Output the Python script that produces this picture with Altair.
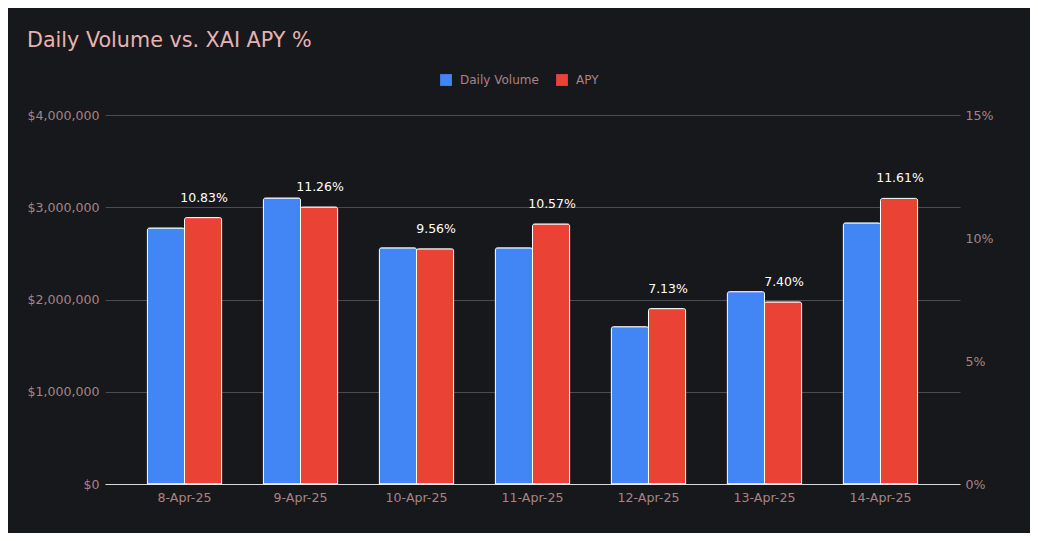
import altair as alt
import pandas as pd

dates = ["8-Apr-25", "9-Apr-25", "10-Apr-25", "11-Apr-25", "12-Apr-25", "13-Apr-25", "14-Apr-25"]
volume = [2775000, 3100000, 2560000, 2560000, 1705000, 2085000, 2830000]
apy = [10.83, 11.26, 9.56, 10.57, 7.13, 7.40, 11.61]

series_names = ["Daily Volume", "APY"]
series_colors = ["#4285f4", "#ea4335"]

df = pd.DataFrame({"date": dates, "volume": volume, "apy": apy})

FONT = "DejaVu Sans"
LABEL_COLOR = "#a88484"
GRID = "#4c4c4c"
AX_FS = 12.6

x_enc = alt.X("date:N", sort=dates, title=None,
              scale=alt.Scale(paddingInner=0.36, paddingOuter=0.3655),
              axis=alt.Axis(labelAngle=0, labelColor=LABEL_COLOR, labelFont=FONT, labelFontSize=AX_FS,
                            ticks=False, domainColor="#d8d8d8", labelPadding=7))
xoff = alt.XOffset("series:N", scale=alt.Scale(domain=series_names))
color = alt.Color("series:N", scale=alt.Scale(domain=series_names, range=series_colors),
                  legend=alt.Legend(title=None, orient="none", direction="horizontal",
                                    legendX=335, legendY=-41, symbolType="square", symbolSize=140,
                                    symbolStrokeWidth=0, labelColor=LABEL_COLOR, labelFont=FONT,
                                    labelFontSize=12, labelOffset=8, columnPadding=17, symbolOpacity=1))

bar_style = dict(stroke="white", strokeWidth=1, cornerRadiusTopLeft=2, cornerRadiusTopRight=2)

vol_bars = alt.Chart(df).transform_calculate(series="'Daily Volume'").mark_bar(**bar_style).encode(
    x=x_enc,
    xOffset=xoff,
    color=color,
    y=alt.Y("volume:Q", title=None, scale=alt.Scale(domain=[0, 4000000]),
            axis=alt.Axis(values=[0, 1000000, 2000000, 3000000, 4000000], format="$,.0f",
                          labelColor=LABEL_COLOR, labelFont=FONT, labelFontSize=AX_FS, ticks=False,
                          domain=False, gridColor=GRID, labelPadding=6)),
)

apy_base = alt.Chart(df).transform_calculate(
    series="'APY'", label="format(datum.apy, '.2f') + '%'"
)
y_apy = alt.Y("apy:Q", title=None, scale=alt.Scale(domain=[0, 15]),
              axis=alt.Axis(orient="right", values=[0, 5, 10, 15], labelExpr="datum.value + '%'",
                            labelColor=LABEL_COLOR, labelFont=FONT, labelFontSize=AX_FS, ticks=False,
                            domain=False, grid=False, labelPadding=5))
apy_bars = apy_base.mark_bar(**bar_style).encode(x=x_enc, xOffset=xoff, color=color, y=y_apy)
apy_text = apy_base.mark_text(dy=-20, dx=1, color="white", font=FONT, fontSize=12.5).encode(
    x=x_enc, xOffset=xoff, y=y_apy, text="label:N")

apy_layer = alt.layer(apy_bars, apy_text)

chart = alt.layer(vol_bars, apy_layer).resolve_scale(y="independent").properties(
    width=855, height=369,
    autosize=alt.AutoSizeParams(type="none"),
    padding={"left": 97, "top": 107, "right": 70, "bottom": 49},
    background="#17181c",
    title=alt.TitleParams("Daily Volume vs. XAI APY %", anchor="start", frame="group", dx=-78,
                          color="#e6b3b3", font=FONT, fontSize=20.7, fontWeight="normal", offset=22),
).configure_view(stroke=None).configure_axis(labelFont=FONT)

chart.save("out.html", embed_options={"renderer": "svg", "actions": False})
